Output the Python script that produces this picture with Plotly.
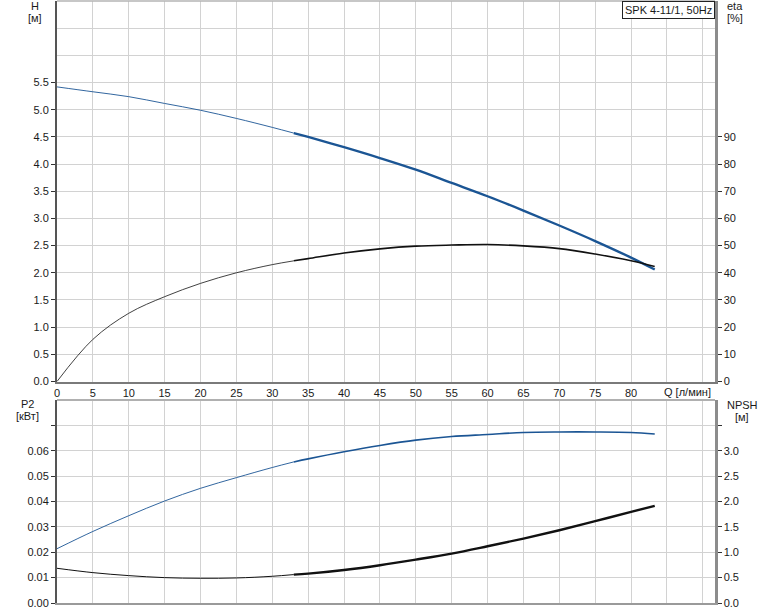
import plotly.graph_objects as go

# ---- data ----
q = [0, 5, 10, 15, 20, 25, 30, 33, 35, 40, 45, 50, 55, 60, 65, 70, 75, 80, 83.3]
head_m = [5.42, 5.33, 5.24, 5.115, 4.99, 4.84, 4.675, 4.57, 4.50, 4.31, 4.11, 3.896, 3.652, 3.408, 3.145, 2.87, 2.584, 2.28, 2.06]
eta_pct = [0, 15.5, 25.1, 31.2, 36.1, 40.0, 43.0, 44.4, 45.2, 47.3, 48.8, 49.8, 50.2, 50.4, 49.9, 48.9, 46.9, 44.4, 42.3]
p2_kw = [0.01368, 0.01197, 0.01079, 0.0100, 0.00974, 0.00987, 0.01053, 0.0112, 0.01158, 0.01303, 0.0149, 0.0171, 0.01947, 0.02237, 0.0254, 0.02868, 0.03224, 0.03592, 0.03829]
npsh_m = [1.07, 1.41, 1.72, 2.01, 2.26, 2.47, 2.67, 2.78, 2.84, 2.98, 3.105, 3.21, 3.28, 3.32, 3.36, 3.37, 3.37, 3.36, 3.33]
op_start = 7  # index where the operating (thick) range begins

x_tick_vals = list(range(0, 95, 5))
x_tick_text = [str(v) if v <= 80 else "" for v in x_tick_vals]
h_tick_vals = [i * 0.5 for i in range(0, 12)]
h_tick_text = [f"{v:.1f}" for v in h_tick_vals]
eta_tick_vals = list(range(0, 100, 10))
p2_tick_vals = [i * 0.01 for i in range(0, 8)]
p2_tick_text = [f"{v:.2f}" if v <= 0.06 + 1e-9 else "" for v in p2_tick_vals]
npsh_tick_vals = [i * 0.5 for i in range(0, 8)]
npsh_tick_text = [f"{v:.1f}" if v <= 3.0 else "" for v in npsh_tick_vals]

W, H = 774, 611
ML, MR, MT, MB = 57, 59, 1, 8
PW, PH = W - ML - MR, H - MT - MB

def px_x(p):
    return (p - ML) / PW

def px_y(p):
    return (H - MB - p) / PH

BLUE = "#1b5594"
BLACK = "#111111"
GRID = "#d2d2d2"
FONT = "Liberation Sans, Arial, sans-serif"
TXT = "#1a1a1a"

fig = go.Figure()

def add_curve(xa, ya, vals, color, thin_w, thick_w):
    fig.add_trace(go.Scatter(x=q[:op_start + 1], y=vals[:op_start + 1], mode="lines",
                             line=dict(color=color, width=thin_w, shape="spline"),
                             xaxis=xa, yaxis=ya, showlegend=False, hoverinfo="skip"))
    fig.add_trace(go.Scatter(x=q[op_start:], y=vals[op_start:], mode="lines",
                             line=dict(color=color, width=thick_w, shape="spline"),
                             xaxis=xa, yaxis=ya, showlegend=False, hoverinfo="skip"))

add_curve("x", "y", head_m, BLUE, 0.9, 2.4)
add_curve("x", "y2", eta_pct, BLACK, 0.8, 1.6)
add_curve("x2", "y3", p2_kw, BLACK, 1.0, 2.4)
add_curve("x2", "y4", npsh_m, BLUE, 0.9, 1.6)

top_dom = [px_y(381.5), 1.0]
bot_dom = [0.0, px_y(400)]

xcommon = dict(range=[0, 91.7], tickvals=x_tick_vals, showgrid=True, gridcolor=GRID, gridwidth=1,
               zeroline=False, ticks="", fixedrange=True)

fig.update_layout(
    width=W, height=H,
    margin=dict(l=ML, r=MR, t=MT, b=MB, pad=0),
    paper_bgcolor="white", plot_bgcolor="white",
    font=dict(family=FONT, size=11, color=TXT),
    xaxis=dict(**xcommon, domain=[0, 1], anchor="y", ticktext=x_tick_text,
               showline=True, linecolor="#7a7a7a", linewidth=2, tickfont=dict(size=11)),
    yaxis=dict(domain=top_dom, range=[0, 7], tickvals=h_tick_vals, ticktext=h_tick_text,
               showgrid=True, gridcolor=GRID, zeroline=False, showline=True, linecolor="#555555",
               linewidth=2, ticks="outside", ticklen=4, tickcolor="#333333", anchor="x",
               fixedrange=True,
               minor=dict(dtick=0.5, tick0=0, showgrid=True, gridcolor=GRID, ticks="")),
    yaxis2=dict(overlaying="y", side="right", range=[0, 140], tickvals=eta_tick_vals,
                showgrid=False, zeroline=False, showline=True, linecolor="#8c8c8c", linewidth=2.5,
                ticks="outside", ticklen=4, tickcolor="#333333", anchor="x", fixedrange=True),
    xaxis2=dict(**xcommon, domain=[0, 1], anchor="y3", showticklabels=False,
                showline=True, linecolor="#9a9a9a", linewidth=2),
    yaxis3=dict(domain=bot_dom, range=[0, 0.08], tickvals=p2_tick_vals, ticktext=p2_tick_text,
                showgrid=True, gridcolor=GRID, zeroline=False, showline=True, linecolor="#555555",
                linewidth=2, ticks="outside", ticklen=4, tickcolor="#333333", anchor="x2",
                fixedrange=True),
    yaxis4=dict(overlaying="y3", side="right", range=[0, 4], tickvals=npsh_tick_vals,
                ticktext=npsh_tick_text, showgrid=False, zeroline=False, showline=True,
                linecolor="#8c8c8c", linewidth=2.5, ticks="outside", ticklen=4,
                tickcolor="#333333", anchor="x2", fixedrange=True),
)

# panel top borders
fig.add_shape(type="line", xref="paper", yref="paper", x0=0, x1=1, y0=1, y1=1,
              line=dict(color="#b5b5b5", width=1.5))
fig.add_shape(type="line", xref="paper", yref="paper", x0=0, x1=1, y0=bot_dom[1], y1=bot_dom[1],
              line=dict(color="#b0b0b0", width=2))

def label(text, xp, yp, xanchor="center"):
    fig.add_annotation(text=text, xref="paper", yref="paper", x=px_x(xp), y=px_y(yp),
                       xanchor=xanchor, yanchor="middle", showarrow=False,
                       font=dict(family=FONT, size=11, color=TXT))

label("H", 35, 6)
label("[м]", 35, 18)
label("eta", 735, 6)
label("[%]", 735, 18)
label("P2", 27, 404)
label("[кВт]", 27, 416)
label("NPSH", 742, 405)
label("[м]", 742, 417)
label("Q [л/мин]", 713, 392, xanchor="right")

fig.add_annotation(text="SPK 4-11/1, 50Hz", xref="paper", yref="paper", x=1, y=1,
                   xanchor="right", yanchor="top", showarrow=False,
                   bgcolor="white", bordercolor="#222222", borderwidth=1, borderpad=2,
                   font=dict(family=FONT, size=11, color=TXT))

fig.write_html("out.html", config={"displayModeBar": False, "staticPlot": True},
               post_script="document.body.style.margin='0';")
